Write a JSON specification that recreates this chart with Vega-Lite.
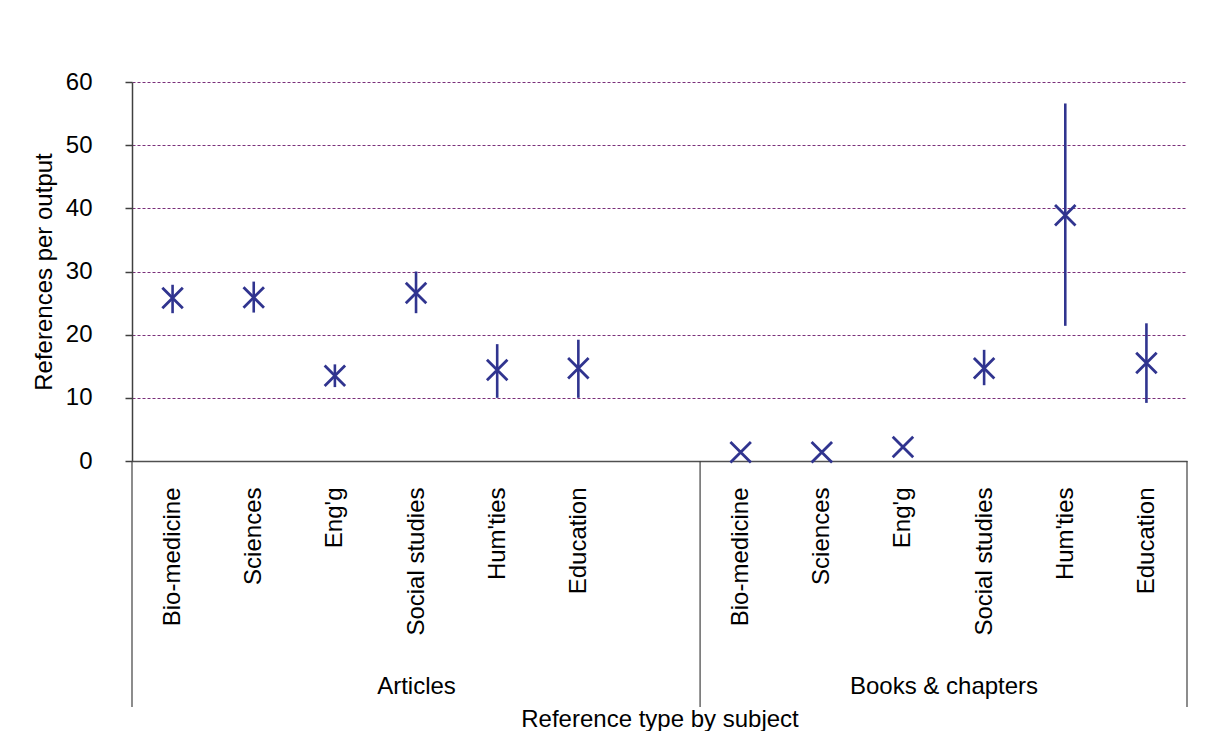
{
  "$schema": "https://vega.github.io/schema/vega-lite/v6.json",
  "padding": {"left": 32, "top": 70, "right": 31, "bottom": 0},
  "background": "white",
  "bounds": "flush",
  "spacing": 0,
  "config": {
    "view": {"stroke": null},
    "font": "Liberation Sans"
  },
  "datasets": {
    "pts": [
      {"slot": "A|Bio-medicine", "mean": 25.8, "lo": 23.4, "hi": 27.9},
      {"slot": "A|Sciences", "mean": 25.9, "lo": 23.5, "hi": 28.4},
      {"slot": "A|Eng'g", "mean": 13.5, "lo": 11.7, "hi": 15.3},
      {"slot": "A|Social studies", "mean": 26.6, "lo": 23.4, "hi": 30.0},
      {"slot": "A|Hum'ties", "mean": 14.4, "lo": 10.0, "hi": 18.5},
      {"slot": "A|Education", "mean": 14.7, "lo": 10.0, "hi": 19.2},
      {"slot": "B|Bio-medicine", "mean": 1.4, "lo": null, "hi": null},
      {"slot": "B|Sciences", "mean": 1.4, "lo": null, "hi": null},
      {"slot": "B|Eng'g", "mean": 2.2, "lo": null, "hi": null},
      {"slot": "B|Social studies", "mean": 14.7, "lo": 12.0, "hi": 17.6},
      {"slot": "B|Hum'ties", "mean": 38.9, "lo": 21.4, "hi": 56.6},
      {"slot": "B|Education", "mean": 15.5, "lo": 9.2, "hi": 21.8}
    ],
    "dividers": [
      {"pos": 0},
      {"pos": 7},
      {"pos": 13}
    ]
  },
  "resolve": {"scale": {"x": "independent"}},
  "vconcat": [
    {
      "width": 1055,
      "height": 379,
      "data": {"name": "pts"},
      "encoding": {
        "x": {
          "field": "slot",
          "type": "nominal",
          "sort": null,
          "scale": {
            "type": "point",
            "padding": 0.5,
            "domain": ["A|Bio-medicine", "A|Sciences", "A|Eng'g", "A|Social studies", "A|Hum'ties", "A|Education", "G|", "B|Bio-medicine", "B|Sciences", "B|Eng'g", "B|Social studies", "B|Hum'ties", "B|Education"]
          },
          "axis": {
            "title": null,
            "labelExpr": "split(datum.value, '|')[1]",
            "ticks": false,
            "tickSize": 0,
            "grid": false,
            "domainColor": "#505050",
            "domainWidth": 1.5,
            "labelAngle": 270,
            "labelPadding": 26,
            "labelFontSize": 24,
            "labelColor": "#000000",
            "labelLimit": 0
          }
        }
      },
      "layer": [
        {
          "mark": {"type": "rule", "color": "#30348f", "strokeWidth": 2.6},
          "encoding": {
            "y": {
              "field": "lo",
              "type": "quantitative",
              "scale": {"domain": [0, 60], "nice": false},
              "axis": {
                "title": "References per output",
                "values": [0, 10, 20, 30, 40, 50, 60],
                "grid": true,
                "gridDash": [3, 2],
                "gridColor": "#7a2f7a",
                "gridWidth": 1,
                "domainColor": "#404040",
                "domainWidth": 1.5,
                "tickColor": "#404040",
                "tickWidth": 1.5,
                "tickSize": 7,
                "labelPadding": 33,
                "labelFontSize": 24,
                "labelColor": "#000000",
                "titleFontSize": 24,
                "titleFontWeight": "normal",
                "titleColor": "#000000",
                "titlePadding": 9
              }
            },
            "y2": {"field": "hi"}
          }
        },
        {
          "mark": {
            "type": "point",
            "shape": "M-1,-1L1,1M-1,1L1,-1",
            "size": 420,
            "filled": false,
            "strokeWidth": 2.8,
            "color": "#30348f",
            "opacity": 1
          },
          "encoding": {
            "y": {"field": "mean", "type": "quantitative"}
          }
        }
      ]
    },
    {
      "width": 1055,
      "height": 246,
      "data": {"name": "dividers"},
      "mark": {"type": "rule", "color": "#404040", "strokeWidth": 1.2},
      "encoding": {
        "x": {
          "field": "pos",
          "type": "quantitative",
          "scale": {"domain": [0, 13], "nice": false, "zero": false},
          "axis": {
            "values": [3.5, 10],
            "labelExpr": "datum.value == 3.5 ? 'Articles' : 'Books & chapters'",
            "ticks": false,
            "tickSize": 0,
            "domain": false,
            "grid": false,
            "labelPadding": -14,
            "labelBaseline": "alphabetic",
            "labelFontSize": 24,
            "labelColor": "#000000",
            "labelFlush": false,
            "labelOverlap": false,
            "labelLimit": 0,
            "title": "Reference type by subject",
            "titleFontSize": 24,
            "titleFontWeight": "normal",
            "titleColor": "#000000",
            "titleBaseline": "alphabetic",
            "titleY": 19
          }
        }
      }
    }
  ]
}
